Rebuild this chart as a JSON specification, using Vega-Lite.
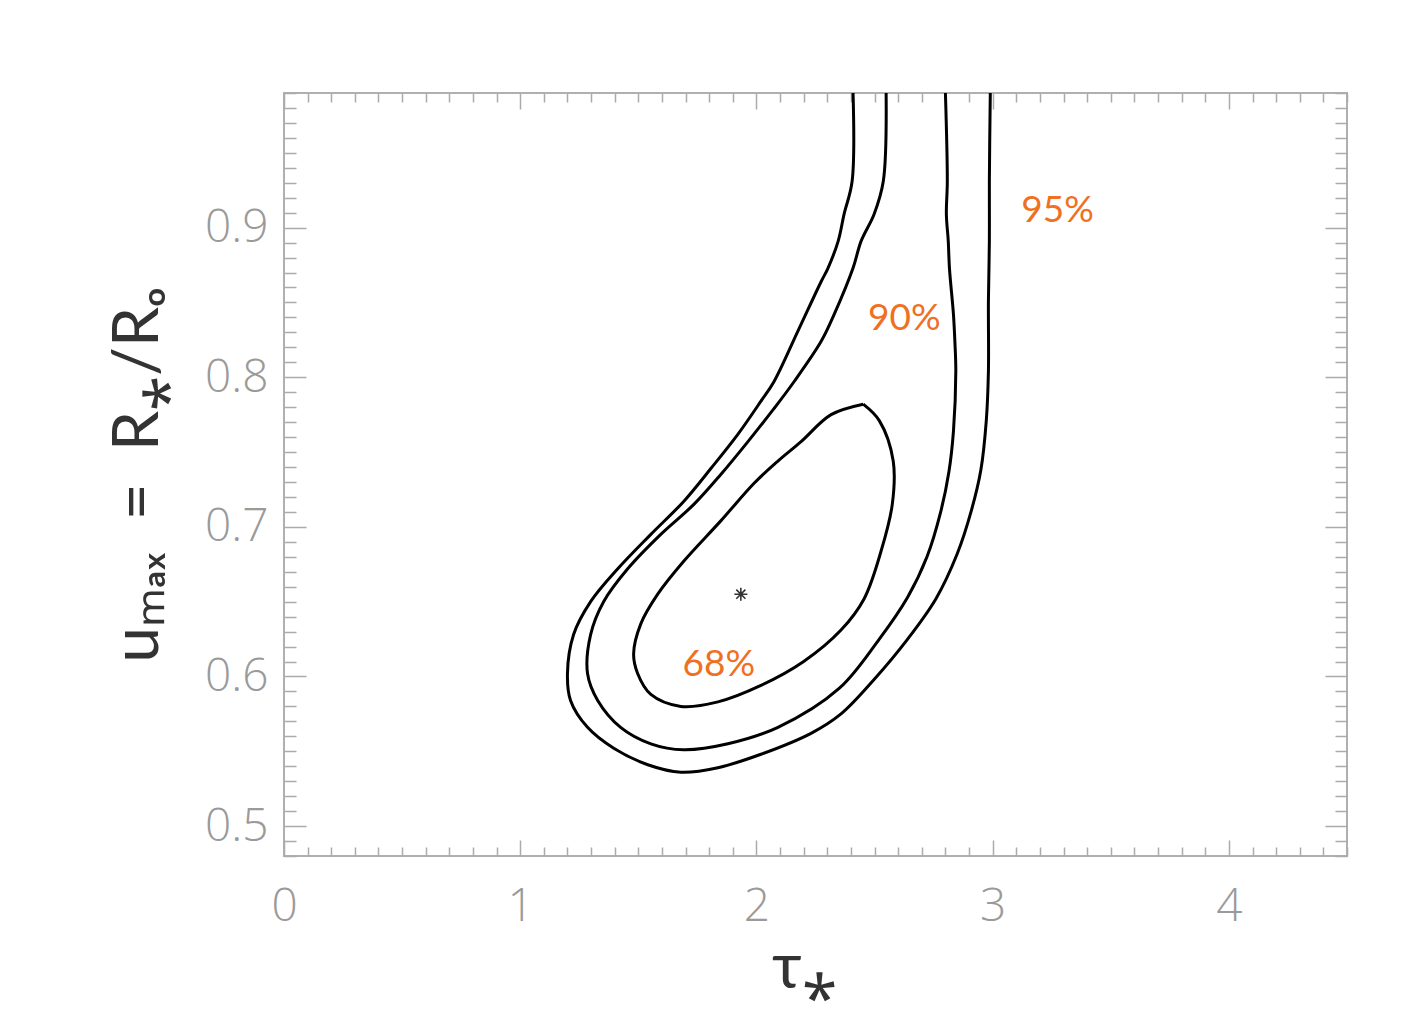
{
  "$schema": "https://vega.github.io/schema/vega-lite/v6.json",
  "width": 1063,
  "height": 763,
  "autosize": "none",
  "padding": {"left": 284, "top": 93, "right": 67, "bottom": 169},
  "background": "white",
  "config": {
    "view": {"stroke": "#b0b0b0", "strokeWidth": 2},
    "axis": {"grid": false, "domain": false, "tickColor": "#ababab", "tickWidth": 1.5, "labelOverlap": false, "labelBound": false, "labelFlush": false}
  },
  "datasets": {
    "contours": [
      {"level": "95", "i": 1, "tau": 2.409, "u": 0.99},
      {"level": "95", "i": 2, "tau": 2.405, "u": 0.931},
      {"level": "95", "i": 3, "tau": 2.371, "u": 0.909},
      {"level": "95", "i": 4, "tau": 2.346, "u": 0.891},
      {"level": "95", "i": 5, "tau": 2.303, "u": 0.873},
      {"level": "95", "i": 6, "tau": 2.274, "u": 0.864},
      {"level": "95", "i": 7, "tau": 2.176, "u": 0.831},
      {"level": "95", "i": 8, "tau": 2.074, "u": 0.797},
      {"level": "95", "i": 9, "tau": 2.019, "u": 0.784},
      {"level": "95", "i": 10, "tau": 1.922, "u": 0.762},
      {"level": "95", "i": 11, "tau": 1.807, "u": 0.739},
      {"level": "95", "i": 12, "tau": 1.692, "u": 0.717},
      {"level": "95", "i": 13, "tau": 1.553, "u": 0.695},
      {"level": "95", "i": 14, "tau": 1.413, "u": 0.672},
      {"level": "95", "i": 15, "tau": 1.298, "u": 0.650},
      {"level": "95", "i": 16, "tau": 1.226, "u": 0.628},
      {"level": "95", "i": 17, "tau": 1.200, "u": 0.602},
      {"level": "95", "i": 18, "tau": 1.213, "u": 0.584},
      {"level": "95", "i": 19, "tau": 1.285, "u": 0.566},
      {"level": "95", "i": 20, "tau": 1.396, "u": 0.552},
      {"level": "95", "i": 21, "tau": 1.540, "u": 0.541},
      {"level": "95", "i": 22, "tau": 1.680, "u": 0.536},
      {"level": "95", "i": 23, "tau": 1.837, "u": 0.539},
      {"level": "95", "i": 24, "tau": 2.019, "u": 0.548},
      {"level": "95", "i": 25, "tau": 2.231, "u": 0.562},
      {"level": "95", "i": 26, "tau": 2.358, "u": 0.575},
      {"level": "95", "i": 27, "tau": 2.498, "u": 0.598},
      {"level": "95", "i": 28, "tau": 2.640, "u": 0.625},
      {"level": "95", "i": 29, "tau": 2.760, "u": 0.652},
      {"level": "95", "i": 30, "tau": 2.850, "u": 0.682},
      {"level": "95", "i": 31, "tau": 2.910, "u": 0.711},
      {"level": "95", "i": 32, "tau": 2.950, "u": 0.738},
      {"level": "95", "i": 33, "tau": 2.973, "u": 0.771},
      {"level": "95", "i": 34, "tau": 2.982, "u": 0.804},
      {"level": "95", "i": 35, "tau": 2.982, "u": 0.851},
      {"level": "95", "i": 36, "tau": 2.986, "u": 0.891},
      {"level": "95", "i": 37, "tau": 2.986, "u": 0.931},
      {"level": "95", "i": 38, "tau": 2.990, "u": 0.99},
      {"level": "90", "i": 1, "tau": 2.549, "u": 0.99},
      {"level": "90", "i": 2, "tau": 2.537, "u": 0.931},
      {"level": "90", "i": 3, "tau": 2.498, "u": 0.909},
      {"level": "90", "i": 4, "tau": 2.443, "u": 0.891},
      {"level": "90", "i": 5, "tau": 2.409, "u": 0.873},
      {"level": "90", "i": 6, "tau": 2.329, "u": 0.842},
      {"level": "90", "i": 7, "tau": 2.274, "u": 0.824},
      {"level": "90", "i": 8, "tau": 2.159, "u": 0.797},
      {"level": "90", "i": 9, "tau": 2.074, "u": 0.779},
      {"level": "90", "i": 10, "tau": 1.964, "u": 0.757},
      {"level": "90", "i": 11, "tau": 1.849, "u": 0.735},
      {"level": "90", "i": 12, "tau": 1.735, "u": 0.715},
      {"level": "90", "i": 13, "tau": 1.595, "u": 0.695},
      {"level": "90", "i": 14, "tau": 1.455, "u": 0.672},
      {"level": "90", "i": 15, "tau": 1.353, "u": 0.650},
      {"level": "90", "i": 16, "tau": 1.298, "u": 0.628},
      {"level": "90", "i": 17, "tau": 1.285, "u": 0.602},
      {"level": "90", "i": 18, "tau": 1.328, "u": 0.584},
      {"level": "90", "i": 19, "tau": 1.425, "u": 0.566},
      {"level": "90", "i": 20, "tau": 1.553, "u": 0.555},
      {"level": "90", "i": 21, "tau": 1.692, "u": 0.551},
      {"level": "90", "i": 22, "tau": 1.879, "u": 0.555},
      {"level": "90", "i": 23, "tau": 2.091, "u": 0.566},
      {"level": "90", "i": 24, "tau": 2.350, "u": 0.592},
      {"level": "90", "i": 25, "tau": 2.520, "u": 0.625},
      {"level": "90", "i": 26, "tau": 2.640, "u": 0.653},
      {"level": "90", "i": 27, "tau": 2.722, "u": 0.680},
      {"level": "90", "i": 28, "tau": 2.780, "u": 0.710},
      {"level": "90", "i": 29, "tau": 2.815, "u": 0.737},
      {"level": "90", "i": 30, "tau": 2.834, "u": 0.764},
      {"level": "90", "i": 31, "tau": 2.844, "u": 0.804},
      {"level": "90", "i": 32, "tau": 2.840, "u": 0.824},
      {"level": "90", "i": 33, "tau": 2.834, "u": 0.842},
      {"level": "90", "i": 34, "tau": 2.817, "u": 0.873},
      {"level": "90", "i": 35, "tau": 2.812, "u": 0.891},
      {"level": "90", "i": 36, "tau": 2.804, "u": 0.909},
      {"level": "90", "i": 37, "tau": 2.808, "u": 0.931},
      {"level": "90", "i": 38, "tau": 2.800, "u": 0.99},
      {"level": "68", "i": 1, "tau": 2.452, "u": 0.782},
      {"level": "68", "i": 2, "tau": 2.520, "u": 0.771},
      {"level": "68", "i": 3, "tau": 2.579, "u": 0.744},
      {"level": "68", "i": 4, "tau": 2.575, "u": 0.715},
      {"level": "68", "i": 5, "tau": 2.528, "u": 0.684},
      {"level": "68", "i": 6, "tau": 2.456, "u": 0.652},
      {"level": "68", "i": 7, "tau": 2.358, "u": 0.631},
      {"level": "68", "i": 8, "tau": 2.200, "u": 0.610},
      {"level": "68", "i": 9, "tau": 2.019, "u": 0.594},
      {"level": "68", "i": 10, "tau": 1.837, "u": 0.583},
      {"level": "68", "i": 11, "tau": 1.680, "u": 0.580},
      {"level": "68", "i": 12, "tau": 1.553, "u": 0.588},
      {"level": "68", "i": 13, "tau": 1.497, "u": 0.602},
      {"level": "68", "i": 14, "tau": 1.480, "u": 0.615},
      {"level": "68", "i": 15, "tau": 1.510, "u": 0.635},
      {"level": "68", "i": 16, "tau": 1.582, "u": 0.655},
      {"level": "68", "i": 17, "tau": 1.692, "u": 0.677},
      {"level": "68", "i": 18, "tau": 1.849, "u": 0.704},
      {"level": "68", "i": 19, "tau": 1.989, "u": 0.729},
      {"level": "68", "i": 20, "tau": 2.091, "u": 0.744},
      {"level": "68", "i": 21, "tau": 2.189, "u": 0.757},
      {"level": "68", "i": 22, "tau": 2.316, "u": 0.775},
      {"level": "68", "i": 23, "tau": 2.452, "u": 0.782}
    ],
    "best": [{"tau": 1.934, "u": 0.655}],
    "labels": [
      {"tau": 3.275, "u": 0.911, "text": "95%"},
      {"tau": 2.626, "u": 0.839, "text": "90%"},
      {"tau": 1.841, "u": 0.608, "text": "68%"}
    ]
  },
  "layer": [
    {
      "data": {"name": "contours"},
      "mark": {"type": "line", "color": "#000000", "strokeWidth": 3, "strokeJoin": "round", "interpolate": "catmull-rom"},
      "encoding": {
        "x": {
          "field": "tau", "type": "quantitative",
          "scale": {"domain": [0, 4.5], "nice": false, "zero": false},
          "axis": {
            "orient": "bottom",
            "values": [0,0.1,0.2,0.3,0.4,0.5,0.6,0.7,0.8,0.9,1,1.1,1.2,1.3,1.4,1.5,1.6,1.7,1.8,1.9,2,2.1,2.2,2.3,2.4,2.5,2.6,2.7,2.8,2.9,3,3.1,3.2,3.3,3.4,3.5,3.6,3.7,3.8,3.9,4,4.1,4.2,4.3,4.4,4.5],
            "tickSize": {"condition": {"test": "abs(datum.value - round(datum.value)) < 0.001", "value": -16}, "value": -9},
            "labelExpr": "abs(datum.value - round(datum.value)) < 0.001 ? format(datum.value, 'd') : ''",
            "labelFont": "Open Sans", "labelFontWeight": 300, "labelFontSize": 46, "labelColor": "#9a9a9a",
            "labelBaseline": "middle", "labelAlign": "center", "labelPadding": 66,
            "title": "τ⁎", "titleFont": "Lato", "titleFontSize": 64, "titleFontWeight": "normal", "titleColor": "#333333", "titlePadding": 0, "titleX": 520
          }
        },
        "y": {
          "field": "u", "type": "quantitative",
          "scale": {"domain": [0.48, 0.99], "nice": false, "zero": false},
          "axis": {
            "orient": "left",
            "values": [0.48,0.49,0.5,0.51,0.52,0.53,0.54,0.55,0.56,0.57,0.58,0.59,0.6,0.61,0.62,0.63,0.64,0.65,0.66,0.67,0.68,0.69,0.7,0.71,0.72,0.73,0.74,0.75,0.76,0.77,0.78,0.79,0.8,0.81,0.82,0.83,0.84,0.85,0.86,0.87,0.88,0.89,0.9,0.91,0.92,0.93,0.94,0.95,0.96,0.97,0.98,0.99],
            "tickSize": {"condition": {"test": "abs(datum.value * 10 - round(datum.value * 10)) < 0.001", "value": -22}, "value": -12},
            "labelExpr": "abs(datum.value * 10 - round(datum.value * 10)) < 0.001 ? format(datum.value, '.1f') : ''",
            "labelFont": "Open Sans", "labelFontWeight": 300, "labelFontSize": 46, "labelColor": "#9a9a9a",
            "labelBaseline": "middle", "labelAlign": "right", "labelPadding": 38,
            "title": "uₘₐₓ\u2002=\u2002R⁎/Rₒ", "titleFont": "Lato", "titleFontSize": 64, "titleFontWeight": "normal", "titleColor": "#333333", "titlePadding": 34
          }
        },
        "detail": {"field": "level", "type": "nominal"},
        "order": {"field": "i", "type": "quantitative"}
      }
    },
    {
      "data": {"name": "best"},
      "mark": {"type": "point", "shape": "M -1 0 L 1 0 M 0 -1 L 0 1 M -0.7 -0.7 L 0.7 0.7 M -0.7 0.7 L 0.7 -0.7", "filled": false, "stroke": "#333333", "strokeWidth": 1.6, "size": 170, "opacity": 1},
      "encoding": {
        "x": {
          "field": "tau", "type": "quantitative",
          "axis": {
            "orient": "top", "labels": false, "title": null,
            "values": [0,0.1,0.2,0.3,0.4,0.5,0.6,0.7,0.8,0.9,1,1.1,1.2,1.3,1.4,1.5,1.6,1.7,1.8,1.9,2,2.1,2.2,2.3,2.4,2.5,2.6,2.7,2.8,2.9,3,3.1,3.2,3.3,3.4,3.5,3.6,3.7,3.8,3.9,4,4.1,4.2,4.3,4.4,4.5],
            "tickSize": {"condition": {"test": "abs(datum.value - round(datum.value)) < 0.001", "value": -16}, "value": -9}
          }
        },
        "y": {
          "field": "u", "type": "quantitative",
          "axis": {
            "orient": "right", "labels": false, "title": null,
            "values": [0.48,0.49,0.5,0.51,0.52,0.53,0.54,0.55,0.56,0.57,0.58,0.59,0.6,0.61,0.62,0.63,0.64,0.65,0.66,0.67,0.68,0.69,0.7,0.71,0.72,0.73,0.74,0.75,0.76,0.77,0.78,0.79,0.8,0.81,0.82,0.83,0.84,0.85,0.86,0.87,0.88,0.89,0.9,0.91,0.92,0.93,0.94,0.95,0.96,0.97,0.98,0.99],
            "tickSize": {"condition": {"test": "abs(datum.value * 10 - round(datum.value * 10)) < 0.001", "value": -22}, "value": -12}
          }
        }
      }
    },
    {
      "data": {"name": "labels"},
      "mark": {"type": "text", "font": "Lato", "fontSize": 37, "color": "#f07022", "align": "center", "baseline": "middle"},
      "encoding": {
        "x": {"field": "tau", "type": "quantitative", "axis": null},
        "y": {"field": "u", "type": "quantitative", "axis": null},
        "text": {"field": "text", "type": "nominal"}
      }
    }
  ],
  "resolve": {"axis": {"x": "independent", "y": "independent"}}
}
